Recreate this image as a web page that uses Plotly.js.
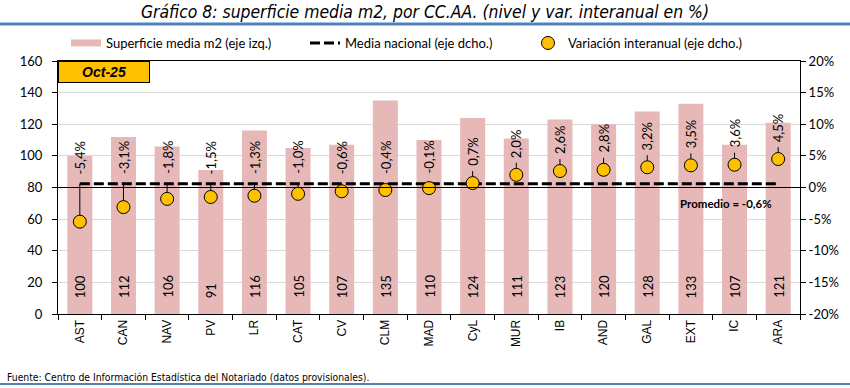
<!DOCTYPE html>
<html>
<head>
<meta charset="utf-8">
<script src="https://cdn.plot.ly/plotly-3.0.1.min.js"></script>
<style>
  html, body { margin: 0; padding: 0; background: #fff; }
  #chart { width: 850px; height: 388px; }
</style>
</head>
<body>
<div id="chart"></div>
<script>
// ---- data ----
var categorias = ['AST','CAN','NAV','PV','LR','CAT','CV','CLM','MAD','CyL','MUR','IB','AND','GAL','EXT','IC','ARA'];
var superficie = [100,112,106,91,116,105,107,135,110,124,111,123,120,128,133,107,121];
var variacion = [-5.4,-3.1,-1.8,-1.5,-1.3,-1.0,-0.6,-0.4,-0.1,0.7,2.0,2.6,2.8,3.2,3.5,3.6,4.5];
var mediaNacionalDibujada = 0.6;   // level at which the dashed line is drawn in the reference
var promedioTexto = 'Promedio = -0,6%';
var periodo = 'Oct-25';
var y1Ticks = [0,20,40,60,80,100,120,140,160];
var y2TickVals = [-20,-15,-10,-5,0,5,10,15,20];
var y2TickText = ['-20%','-15%','-10%','-5%','0%','5%','10%','15%','20%'];

// ---- layout geometry (pixels) ----
var W = 850, H = 388;
var M = {l: 58, r: 50, t: 61, b: 74};
var plotH = H - M.t - M.b, plotW = W - M.l - M.r;
function py(pixY) { return (H - M.b - pixY) / plotH; }
function px(pixX) { return (pixX - M.l) / plotW; }

var fmt = function (v) { return v.toFixed(1).replace('.', ',') + '%'; };
var mediaY = categorias.map(function () { return mediaNacionalDibujada; });
var leaderUp = variacion.map(function (v) { return v < 0 ? (mediaNacionalDibujada - v) : 1.9; });
var leaderDown = variacion.map(function () { return 0; });

var baseFont = 'Lato, Carlito, "Open Sans", sans-serif';
var legFont = {family: baseFont, size: 13, color: '#000'};

var traces = [
  {
    type: 'bar', name: 'Superficie media m2 (eje izq.)', showlegend: false,
    x: categorias, y: superficie, yaxis: 'y',
    marker: {color: '#E6B9B8'}, hoverinfo: 'x+y'
  },
  // legend entry for the bars (wide swatch like the reference)
  {
    type: 'scatter', mode: 'lines', name: 'Superficie media m2 (eje izq.)',
    x: [categorias[0]], y: [null], yaxis: 'y', legend: 'legend',
    line: {color: '#E6B9B8', width: 7}
  },
  {
    type: 'scatter', mode: 'lines', name: 'Media nacional (eje dcho.)', legend: 'legend2',
    x: categorias, y: mediaY, yaxis: 'y2',
    line: {color: '#000', width: 3, dash: '10px,4px'}
  },
  {
    type: 'scatter', mode: 'markers', name: 'Variación interanual (eje dcho.)', legend: 'legend3',
    x: categorias, y: variacion, yaxis: 'y2',
    marker: {color: '#FFC000', size: 13, line: {color: '#000', width: 1}},
    error_y: {type: 'data', symmetric: false, array: leaderUp, arrayminus: leaderDown,
              width: 0, thickness: 1, color: '#000'}
  }
];

var annotations = [];
// percentage labels
variacion.forEach(function (v, i) {
  annotations.push({
    x: categorias[i], xref: 'x', yref: 'y2',
    y: v < 0 ? 1.8 : v, yshift: v < 0 ? 0 : 15,
    yanchor: 'bottom', xanchor: 'center',
    text: fmt(v), textangle: -90, showarrow: false,
    font: {family: baseFont, size: 13, color: '#000'}
  });
});
// bar value labels
superficie.forEach(function (s, i) {
  annotations.push({
    x: categorias[i], xref: 'x', yref: 'y', y: 0, yshift: 14,
    yanchor: 'bottom', xanchor: 'center',
    text: String(s), textangle: -90, showarrow: false,
    font: {family: baseFont, size: 13, color: '#000'}
  });
});
// Promedio text
annotations.push({
  x: categorias[categorias.length - 1], xref: 'x', xshift: -4, xanchor: 'right',
  y: -2.5, yref: 'y2', yanchor: 'middle', showarrow: false,
  text: '<b>' + promedioTexto + '</b>',
  font: {family: baseFont, size: 11.5, color: '#000'}
});
// Oct-25 box
annotations.push({
  xref: 'paper', yref: 'paper', x: 0, y: 1, xanchor: 'left', yanchor: 'top',
  text: '<b><i>' + periodo + '</i></b>', showarrow: false,
  width: 88, height: 18, bgcolor: '#FFC000', bordercolor: '#000', borderwidth: 1, borderpad: 1,
  font: {family: 'Liberation Sans, Arial, sans-serif', size: 14, color: '#000'}
});
// footnote
annotations.push({
  xref: 'paper', yref: 'paper', x: px(5), y: py(377), xanchor: 'left', yanchor: 'middle',
  text: 'Fuente: Centro de Información Estadística del Notariado (datos provisionales).',
  showarrow: false,
  font: {family: '"Liberation Sans Narrow", "DejaVu Sans Condensed", sans-serif', size: 10.3, color: '#000'}
});

var shapes = [
  {type: 'line', xref: 'paper', yref: 'paper', x0: px(0), x1: px(W), y0: py(24), y1: py(24),
   line: {color: '#4F81BD', width: 3}},
  {type: 'line', xref: 'paper', yref: 'paper', x0: px(0), x1: px(W), y0: py(384), y1: py(384),
   line: {color: '#4F81BD', width: 2}},
  {type: 'line', xref: 'paper', yref: 'y2', x0: 0, x1: 1, y0: 0, y1: 0, layer: 'above',
   line: {color: '#000', width: 1}}
];

function legendAt(textStartPx) {
  return {
    orientation: 'h', x: px(textStartPx - 40), xanchor: 'left', y: py(43), yanchor: 'middle',
    font: legFont, bgcolor: 'rgba(0,0,0,0)', borderwidth: 0
  };
}

var layout = {
  width: W, height: H,
  margin: M,
  paper_bgcolor: '#fff', plot_bgcolor: '#fff',
  font: {family: baseFont, size: 13, color: '#000'},
  title: {
    text: '<i>Gráfico 8: superficie media m2, por CC.AA. (nivel y var. interanual en %)</i>',
    x: 0.5, xanchor: 'center', xref: 'container', y: 1 - 12 / H, yanchor: 'middle', yref: 'container',
    font: {family: '"Liberation Sans Narrow", "Arial Narrow", "DejaVu Sans Condensed", sans-serif', size: 17.4, color: '#000'}
  },
  bargap: 0.427,
  showlegend: true,
  legend: legendAt(106),
  legend2: legendAt(345),
  legend3: legendAt(568),
  xaxis: {
    type: 'category', categoryorder: 'array', categoryarray: categorias,
    tickangle: -90, ticks: 'outside', ticklen: 5, tickcolor: '#000',
    tickson: 'boundaries', showline: true, linecolor: '#000', linewidth: 1, mirror: true,
    showgrid: false, fixedrange: true, range: [-0.5, categorias.length - 0.5],
    tickfont: {family: '"Liberation Sans", Arial, sans-serif', size: 12, color: '#000'}
  },
  yaxis: {
    range: [0, 160], tickvals: y1Ticks, ticks: 'outside', ticklen: 5, tickcolor: '#000',
    ticklabelstandoff: 7,
    showline: true, linecolor: '#000', linewidth: 1,
    showgrid: true, gridcolor: '#D9D9D9', gridwidth: 1, zeroline: false, fixedrange: true,
    tickfont: {family: baseFont, size: 13, color: '#000'}
  },
  yaxis2: {
    overlaying: 'y', side: 'right', range: [-20, 20],
    tickvals: y2TickVals, ticktext: y2TickText, ticks: 'outside', ticklen: 5, tickcolor: '#000',
    showline: true, linecolor: '#000', linewidth: 1,
    showgrid: false, zeroline: false, fixedrange: true,
    tickfont: {family: baseFont, size: 13, color: '#000'}
  },
  annotations: annotations,
  shapes: shapes
};

Plotly.newPlot('chart', traces, layout, {displayModeBar: false, staticPlot: true});
</script>
</body>
</html>
